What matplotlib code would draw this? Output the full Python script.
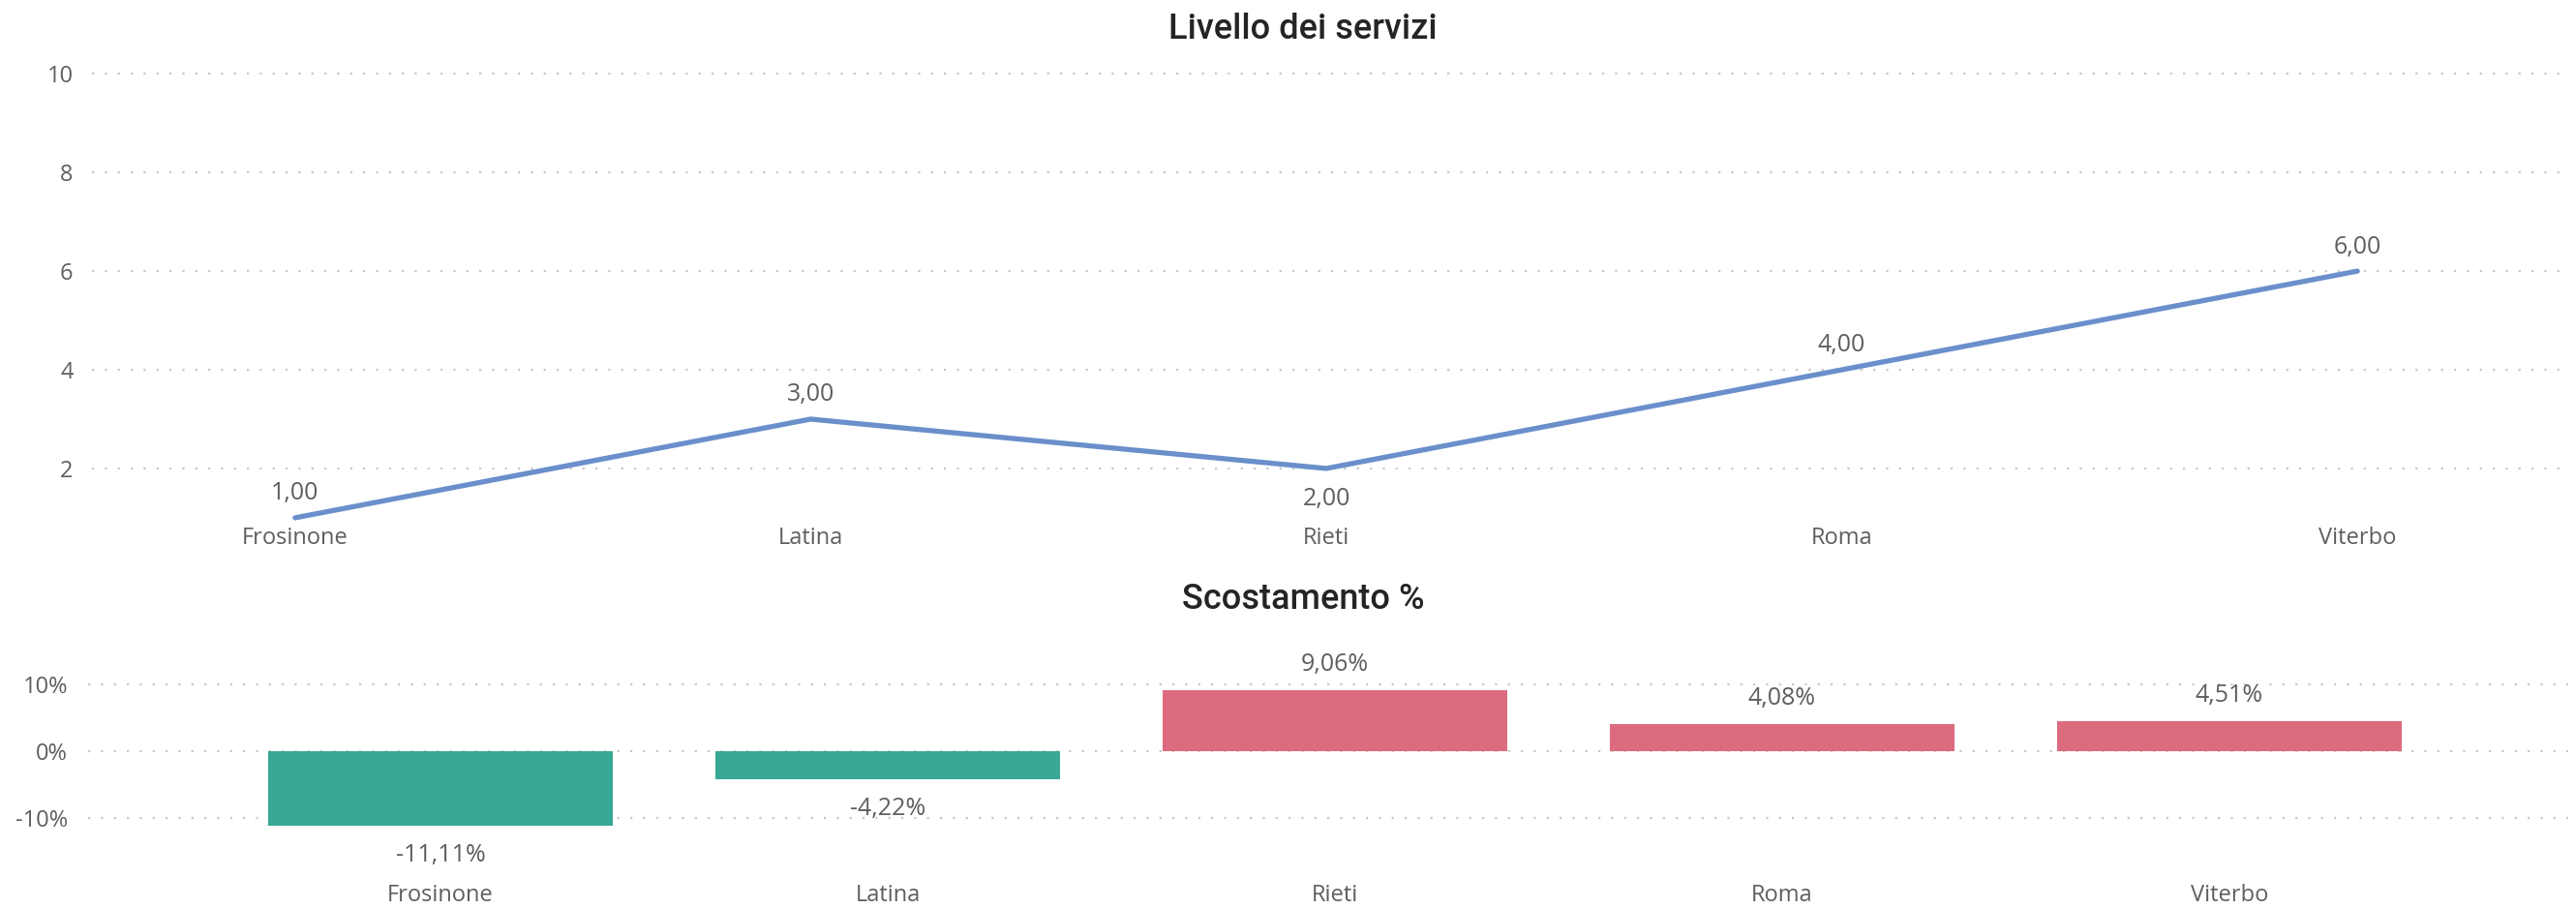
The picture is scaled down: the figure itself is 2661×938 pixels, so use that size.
import matplotlib
matplotlib.use("Agg")
import matplotlib.pyplot as plt

# dati
province = ["Frosinone", "Latina", "Rieti", "Roma", "Viterbo"]
livello = [1.00, 3.00, 2.00, 4.00, 6.00]
scostamento = [-11.11, -4.22, 9.06, 4.08, 4.51]
livello_ticks = [2, 4, 6, 8, 10]
scost_ticks = [-10, 0, 10]

col_line = "#6A8FCB"
col_neg = "#38A794"
col_pos = "#DD6B7F"
col_text = "#605E5C"
col_grid = "#C8C8C8"

plt.rcParams["font.family"] = ["Open Sans", "DejaVu Sans"]

W, H = 2661, 938
fig = plt.figure(figsize=(W / 100, H / 100), dpi=100)


def frac_box(x0, x1, y0, y1):
    # pixel box -> figure fraction
    return [x0 / W, 1 - y1 / H, (x1 - x0) / W, (y1 - y0) / H]


def stile_asse(ax):
    for s in ax.spines.values():
        s.set_visible(False)
    ax.tick_params(length=0, labelsize=17, colors=col_text)
    ax.grid(axis="y", color=col_grid, linewidth=1.6, linestyle=(0, (1, 5)))
    ax.set_axisbelow(True)


# --- Livello dei servizi ---
ax1 = fig.add_axes(frac_box(95, 2653, 66, 540))
x = list(range(len(province)))
ax1.plot(x, livello, color=col_line, linewidth=3.8, solid_capstyle="round",
         solid_joinstyle="round", zorder=3)
ax1.set_xlim(-0.394, 4.409)
ax1.set_ylim(0.9, 10.2)
ax1.set_yticks(livello_ticks)
ax1.set_xticks(x)
ax1.set_xticklabels(province)
stile_asse(ax1)
ax1.tick_params(axis="x", pad=3)
ax1.tick_params(axis="y", pad=14)
for i, v in enumerate(livello):
    lab = f"{v:.2f}".replace(".", ",")
    sotto = 0 < i < len(livello) - 1 and v < livello[i - 1] and v < livello[i + 1]
    dy = -23 if sotto else 18
    ax1.annotate(lab, (i, v), xytext=(0, dy), textcoords="offset points",
                 ha="center", va="center", fontsize=18, color=col_text,
                 annotation_clip=False)

fig.text(1346 / W, 1 - 31 / H, "Livello dei servizi", ha="center", va="center",
         fontsize=26, color="#252423", family="Roboto", weight="medium")

# --- Scostamento % ---
ax2 = fig.add_axes(frac_box(91, 2653, 686, 866))
colori = [col_pos if v >= 0 else col_neg for v in scostamento]
ax2.bar(x, scostamento, width=0.77, color=colori, zorder=3)
ax2.set_xlim(-0.788, 4.758)
ax2.set_ylim(-13, 13)
ax2.set_yticks(scost_ticks)
ax2.set_yticklabels([f"{t}%" for t in scost_ticks])
ax2.set_xticks(x)
ax2.set_xticklabels(province)
stile_asse(ax2)
ax2.tick_params(axis="x", pad=34)
ax2.tick_params(axis="y", pad=15)
for i, v in enumerate(scostamento):
    lab = f"{v:.2f}%".replace(".", ",")
    dy = 19 if v >= 0 else -22
    ax2.annotate(lab, (i, v), xytext=(0, dy), textcoords="offset points",
                 ha="center", va="center", fontsize=18, color=col_text,
                 annotation_clip=False)

fig.text(1346 / W, 1 - 619 / H, "Scostamento %", ha="center", va="center",
         fontsize=26, color="#252423", family="Roboto", weight="medium")

fig.savefig("out.png", dpi=100, facecolor="white")
